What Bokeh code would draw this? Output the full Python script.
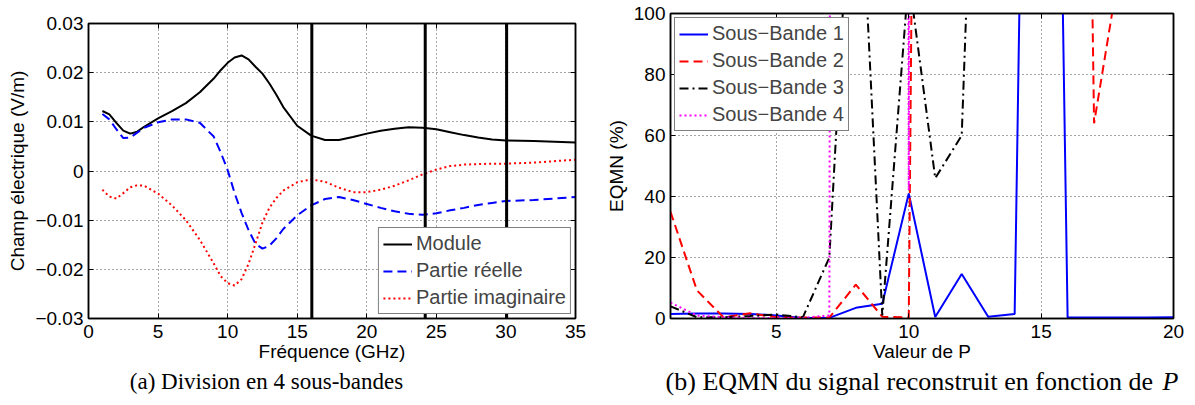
from bokeh.plotting import figure
from bokeh.models import Range1d, FixedTicker, LinearAxis, Span, CustomJSTickFormatter
from bokeh.layouts import row, column
from bokeh.embed import file_html
from bokeh.resources import INLINE
from bokeh.core.properties import value

# ---------------- data: (a) electric field vs frequency ----------------
freq = [1, 1.5, 2, 2.5, 3, 3.5, 4, 5, 6, 7, 8, 9, 9.5, 10, 10.5, 11, 11.5, 12, 12.5,
        13, 13.5, 14, 15, 16, 17, 18, 19, 20, 21, 22, 23, 24, 25, 26, 27, 28, 29, 30, 32, 35]
module = [0.0122, 0.0115, 0.0098, 0.0082, 0.0076, 0.0080, 0.0090, 0.0107, 0.0122, 0.0138,
          0.0160, 0.0188, 0.0205, 0.0220, 0.0231, 0.0235, 0.0227, 0.0212, 0.0198,
          0.0178, 0.0155, 0.0130, 0.0092, 0.0072, 0.0063, 0.0063, 0.0069, 0.0076, 0.0082,
          0.0086, 0.0089, 0.0088, 0.0085, 0.0079, 0.0073, 0.0068, 0.0064, 0.0062, 0.0061, 0.0058]
real_part = [0.0116, 0.0105, 0.0085, 0.0067, 0.0068, 0.0078, 0.0088, 0.0099, 0.0105, 0.0105,
             0.0098, 0.0070, 0.0038, 0.0002, -0.0045, -0.0085, -0.0120, -0.0148, -0.0158,
             -0.0152, -0.0137, -0.0118, -0.0090, -0.0070, -0.0057, -0.0053, -0.0059, -0.0067, -0.0075,
             -0.0082, -0.0087, -0.0089, -0.0086, -0.0080, -0.0075, -0.0069, -0.0065, -0.0061, -0.0059, -0.0053]
imag_part = [-0.0038, -0.0052, -0.0056, -0.0045, -0.0033, -0.0029, -0.0030, -0.0046, -0.0070, -0.0100,
             -0.0140, -0.0188, -0.0214, -0.0228, -0.0233, -0.0220, -0.0189, -0.0148, -0.0105,
             -0.0075, -0.0055, -0.0040, -0.0023, -0.0017, -0.0022, -0.0034, -0.0043, -0.0043, -0.0038,
             -0.0030, -0.0019, -0.0007, 0.0003, 0.0010, 0.0013, 0.0014, 0.0015, 0.0015, 0.0017, 0.0023]
band_edges = [16.05, 24.2, 30.05]
freq_ticks = [0, 5, 10, 15, 20, 25, 30, 35]
field_ticks = [-0.03, -0.02, -0.01, 0, 0.01, 0.02, 0.03]

# ---------------- data: (b) EQMN vs P ----------------
P = list(range(1, 21))
sb1 = [1.5, 1.6, 1.6, 1.5, 1.0, 0.2, 0.2, 3.5, 4.8, 41, 0.5, 14.6, 0.6, 1.5, 560, 0.3, 0.3, 0.3, 0.3, 0.4]
sb2 = [35, 9.2, 0.4, 1.7, 0.4, 0.3, 0.3, 11.1, 0.6, 0.3, 1000, 1000, 1000, 1000, 1000, 660, 64, 117, 300, 400]
sb3 = [4.0, 0.4, 0.4, 0.8, 1.3, 0.4, 20, 178, 1.0, 112, 46, 60, 300, 500, 500, 500, 500, 500, 500, 500]
sb4 = [5.2, 1.0, 0.4, 0.2, 0.2, 0.2, 1.0, 5000, 5000, 42, 5000, 5000, 5000, 5000, 5000, 5000, 5000, 5000, 5000, 5000]
p_ticks = [5, 10, 15, 20]
eqmn_ticks = [0, 20, 40, 60, 80, 100]

caption_a = "(a) Division en 4 sous-bandes"
caption_b = "(b) EQMN du signal reconstruit en fonction de "
caption_b_var = "P"

FONT = "Liberation Sans"
FS = "19px"
LEG_FS = "20px"
SERIF = "Liberation Serif"


def style(p, xticks, yticks, xlabel, ylabel, yfmt=None):
    p.xaxis.ticker = FixedTicker(ticks=xticks)
    p.yaxis.ticker = FixedTicker(ticks=yticks)
    if yfmt is not None:
        p.yaxis.formatter = yfmt
    for ax in [p.xaxis[0], p.yaxis[0]]:
        ax.major_tick_in = 5
        ax.major_tick_out = 0
        ax.minor_tick_line_color = None
        ax.axis_line_width = 1.5
        ax.axis_line_color = "black"
        ax.major_tick_line_color = "black"
        ax.major_label_text_font = FONT
        ax.major_label_text_font_size = FS
        ax.major_label_text_color = "black"
        ax.axis_label_text_font = FONT
        ax.axis_label_text_font_size = FS
        ax.axis_label_text_font_style = "normal"
        ax.axis_label_text_color = "black"
    p.xaxis.axis_label = xlabel
    p.yaxis.axis_label = ylabel
    p.xaxis.major_label_standoff = 6
    p.yaxis.major_label_standoff = 5
    p.xaxis.axis_label_standoff = 0
    p.yaxis.axis_label_standoff = 4
    for loc, t in (("above", xticks), ("right", yticks)):
        ax = LinearAxis(ticker=FixedTicker(ticks=t), major_label_text_font_size="0px",
                        major_tick_in=5, major_tick_out=0, minor_tick_line_color=None,
                        axis_line_width=1.5, major_label_standoff=0)
        p.add_layout(ax, loc)
    for g in (p.xgrid[0], p.ygrid[0]):
        g.grid_line_color = "black"
        g.grid_line_alpha = 0.7
        g.grid_line_dash = "1 3"
        g.grid_line_width = 1
    p.outline_line_color = "black"
    p.outline_line_width = 1.5
    p.background_fill_color = "white"
    p.border_fill_color = "white"


def style_legend(p, loc):
    lg = p.legend[0]
    lg.location = loc
    lg.border_line_color = "black"
    lg.border_line_width = 1.5
    lg.label_text_font = FONT
    lg.label_text_font_size = LEG_FS
    lg.glyph_width = 29
    lg.glyph_height = 20
    lg.label_height = 20
    lg.spacing = 4
    lg.padding = 4
    lg.margin = 4
    lg.label_standoff = 4
    lg.background_fill_alpha = 1.0


# ---------------- figure (a) ----------------
p1 = figure(frame_width=487, frame_height=295, x_range=Range1d(0, 35), y_range=Range1d(-0.03, 0.03),
            output_backend="svg", toolbar_location=None,
            min_border_left=88, min_border_right=25, min_border_top=23, min_border_bottom=44)
for e in band_edges:
    p1.add_layout(Span(location=e, dimension="height", line_color="black", line_width=3))
p1.line(freq, module, line_color="black", line_width=2, legend_label="Module")
p1.line(freq, real_part, line_color="#0000ff", line_width=2, line_dash="9 5", legend_label="Partie réelle")
p1.line(freq, imag_part, line_color="#ff0000", line_width=2, line_dash="2 3", legend_label="Partie imaginaire")
fmt = CustomJSTickFormatter(code="if (Math.abs(tick) < 1e-9) { return '0'; } return tick.toFixed(2).replace('-', '\\u2212');")
style(p1, freq_ticks, field_ticks, "Fréquence (GHz)", "Champ électrique (V/m)", fmt)
style_legend(p1, "bottom_right")

# ---------------- figure (b) ----------------
p2 = figure(frame_width=503, frame_height=305, x_range=Range1d(1, 20), y_range=Range1d(0, 100),
            output_backend="svg", toolbar_location=None,
            min_border_left=70, min_border_right=21, min_border_top=13, min_border_bottom=44)
p2.line(P, sb1, line_color="#0000ff", line_width=2, legend_label="Sous\u2212Bande 1")
p2.line(P, sb2, line_color="#ff0000", line_width=2, line_dash="9 5", legend_label="Sous\u2212Bande 2")
p2.line(P, sb3, line_color="black", line_width=2, line_dash="9 4 2 4", legend_label="Sous\u2212Bande 3")
p2.line(P, sb4, line_color="#ff00ff", line_width=2, line_dash="2 3", legend_label="Sous\u2212Bande 4")
style(p2, p_ticks, eqmn_ticks, "Valeur de P", "EQMN (%)")
style_legend(p2, "top_left")

# ---------------- captions ----------------
pc = figure(width=1194, height=32, x_range=Range1d(0, 1194), y_range=Range1d(0, 32),
            output_backend="svg", toolbar_location=None, min_border=0,
            x_axis_location=None, y_axis_location=None)
pc.grid.visible = False
pc.outline_line_color = None
pc.text(x=[266], y=[15], text=[caption_a], text_font=value(SERIF),
        text_font_size="23px", text_align="center", text_baseline="middle", text_color="black")
pc.text(x=[1159], y=[15], text=[caption_b], text_font=value(SERIF),
        text_font_size="26px", text_align="right", text_baseline="middle", text_color="black")
pc.text(x=[1162], y=[15], text=[caption_b_var], text_font=value(SERIF),
        text_font_style="italic", text_font_size="26px", text_align="left", text_baseline="middle",
        text_color="black")

layout = column(row(column(p1), column(p2)), pc)
open("out.html", "w").write(file_html(layout, INLINE))
